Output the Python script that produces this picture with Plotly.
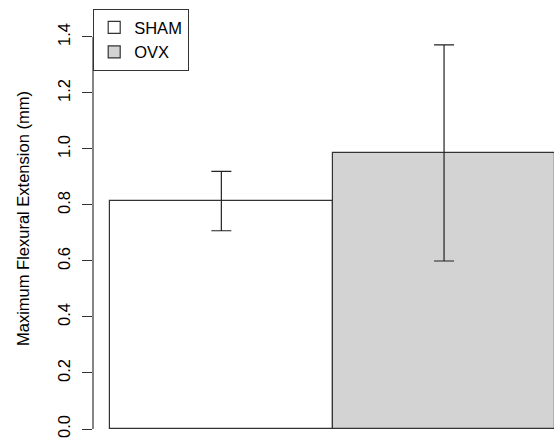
import plotly.graph_objects as go

groups = ["SHAM", "OVX"]
means = [0.814, 0.986]
errors = [0.106, 0.386]
fills = ["#FFFFFF", "#D3D3D3"]
y_ticks = [0.0, 0.2, 0.4, 0.6, 0.8, 1.0, 1.2, 1.4]
y_title = "Maximum Flexural Extension (mm)"

FONT = "Liberation Sans, Arial, sans-serif"
FS = 16.5

fig = go.Figure()
for i, (g, m, e, c) in enumerate(zip(groups, means, errors, fills)):
    fig.add_trace(go.Bar(
        x=[i], y=[m], width=1, name=g,
        marker=dict(color=c, line=dict(color="#333333", width=1.2)),
        error_y=dict(type="data", array=[e], visible=True, width=10,
                     thickness=1.2, color="#222222"),
    ))

fig.add_shape(type="line", xref="paper", yref="y", x0=0, x1=0,
              y0=y_ticks[0], y1=y_ticks[-1],
              line=dict(color="#333333", width=1.2))

fig.add_annotation(text=y_title, xref="paper", yref="paper", x=0, y=(443 - 219) / 443,
                   xanchor="center", yanchor="middle", xshift=23 - 93, textangle=-90,
                   showarrow=False, font=dict(family=FONT, size=FS, color="#000000"))

fig.update_layout(
    width=554, height=443,
    margin=dict(l=93, r=0, t=0, b=0),
    paper_bgcolor="white", plot_bgcolor="white",
    showlegend=True,
    legend=dict(x=0, y=(443 - 9) / 443, xanchor="left", yanchor="top",
                bordercolor="#333333", borderwidth=1.2, bgcolor="white",
                font=dict(family=FONT, size=FS, color="#000000")),
    xaxis=dict(range=[-0.5763, 1.4937], showticklabels=False, ticks="",
               showgrid=False, zeroline=False, showline=False),
    yaxis=dict(range=[-0.05, 1.532], tickvals=y_ticks,
               ticktext=[f"{v:.1f}" for v in y_ticks],
               ticks="outside", ticklen=10, tickwidth=1.2, tickcolor="#333333",
               ticklabelstandoff=5,
               tickangle=-90, showgrid=False, zeroline=False, showline=False,
               tickfont=dict(family=FONT, size=FS, color="#000000")),
    bargap=0,
)

fig.write_html("out.html")
